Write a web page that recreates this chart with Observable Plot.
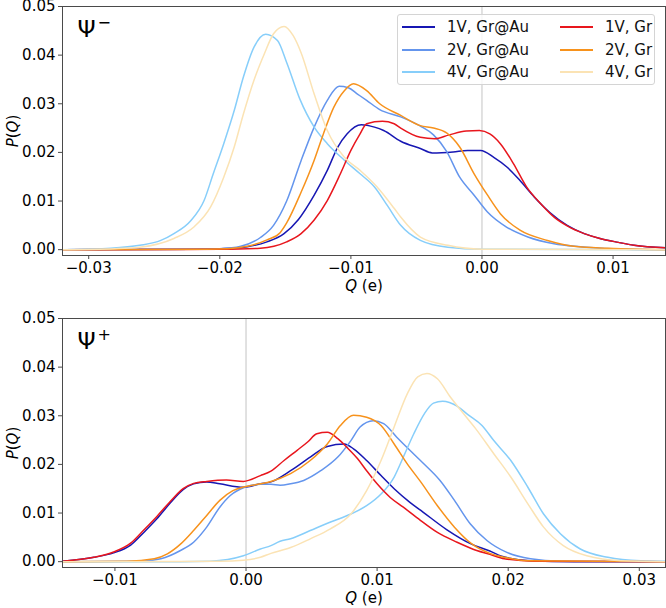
<!DOCTYPE html>
<html>
<head>
<meta charset="utf-8">
<script src="https://cdn.jsdelivr.net/npm/d3@7"></script>
<script src="https://cdn.jsdelivr.net/npm/@observablehq/plot@0.6"></script>
<style>
  body { margin: 0; background: #fff; font-family: "DejaVu Sans", sans-serif; }
  #wrap { position: relative; width: 666px; height: 608px; }
  #legend { position: absolute; left: 397px; top: 14px; width: 258px; height: 71px;
    background: rgba(255,255,255,0.8); border: 1px solid #d4d4d4; border-radius: 3px; box-sizing: border-box; }
  .entry { position: absolute; height: 20px; font-size: 15px; line-height: 20px; color: #111; white-space: nowrap; }
  .swatch { position: absolute; top: 9px; width: 33px; height: 0; border-top: 2px solid; }
  .lab { position: absolute; left: 45px; top: 0; }
</style>
</head>
<body>
<div id="wrap">
  <div id="top"></div>
  <div id="bottom"></div>
  <div id="legend"></div>
</div>
<script>
// ---- series names and colours ----
const seriesNames = ["1V, Gr@Au", "2V, Gr@Au", "4V, Gr@Au", "1V, Gr", "2V, Gr", "4V, Gr"];
const seriesColors = ["#1717b3", "#6495ed", "#87cefa", "#e8161d", "#f7921c", "#fbe3b4"];

// ---- panel labels and ticks ----
const panelSymbols = ["Ψ", "Ψ"];
const panelSups = ["−", "+"];
const topXTicks = [-0.03, -0.02, -0.01, 0.00, 0.01];
const bottomXTicks = [-0.01, 0.00, 0.01, 0.02, 0.03];
const yTicks = [0, 0.01, 0.02, 0.03, 0.04, 0.05];

// ---- Ψ⁻ panel: [Q, P(Q)] ----
const minus_1V_GrAu = [[-0.0320,0],[-0.0220,0.0001],[-0.0190,0.0003],[-0.0179,0.0006],[-0.0164,0.0016],[-0.0151,0.0033],[-0.0140,0.0062],[-0.0128,0.0112],[-0.0118,0.0163],[-0.0110,0.0211],[-0.0103,0.0238],[-0.0092,0.0257],[-0.0082,0.0252],[-0.0075,0.0245],[-0.0062,0.0223],[-0.0047,0.0208],[-0.0038,0.0199],[-0.0022,0.0201],[-0.0011,0.0204],[-0.0001,0.0204],[0.0009,0.0190],[0.0019,0.0170],[0.0029,0.0142],[0.0040,0.0108],[0.0052,0.0076],[0.0065,0.0050],[0.0078,0.0033],[0.0090,0.0023],[0.0104,0.0015],[0.0116,0.0009],[0.0140,0.0004]];
const minus_2V_GrAu = [[-0.0320,0],[-0.0220,0.0001],[-0.0199,0.0002],[-0.0184,0.0007],[-0.0169,0.0025],[-0.0159,0.0050],[-0.0149,0.0100],[-0.0138,0.0183],[-0.0128,0.0252],[-0.0118,0.0307],[-0.0109,0.0336],[-0.0102,0.0333],[-0.0095,0.0320],[-0.0088,0.0307],[-0.0078,0.0288],[-0.0062,0.0273],[-0.0047,0.0254],[-0.0037,0.0236],[-0.0027,0.0202],[-0.0017,0.0149],[-0.0006,0.0112],[0.0004,0.0078],[0.0019,0.0046],[0.0035,0.0026],[0.0055,0.0012],[0.0075,0.0006],[0.0090,0.0003],[0.0110,0.0001],[0.0140,0]];
const minus_4V_GrAu = [[-0.0320,0],[-0.0283,0.0003],[-0.0261,0.0009],[-0.0245,0.0019],[-0.0235,0.0033],[-0.0222,0.0060],[-0.0212,0.0101],[-0.0205,0.0156],[-0.0197,0.0218],[-0.0189,0.0286],[-0.0182,0.0355],[-0.0174,0.0416],[-0.0165,0.0443],[-0.0156,0.0430],[-0.0149,0.0385],[-0.0139,0.0310],[-0.0128,0.0252],[-0.0118,0.0218],[-0.0105,0.0184],[-0.0093,0.0156],[-0.0082,0.0129],[-0.0072,0.0090],[-0.0062,0.0050],[-0.0047,0.0019],[-0.0026,0.0005],[0,0.0001],[0.0140,0]];
const minus_1V_Gr = [[-0.0320,0],[-0.0200,0.0001],[-0.0169,0.0003],[-0.0149,0.0016],[-0.0138,0.0033],[-0.0128,0.0061],[-0.0118,0.0101],[-0.0108,0.0156],[-0.0100,0.0204],[-0.0093,0.0238],[-0.0088,0.0259],[-0.0076,0.0264],[-0.0067,0.0259],[-0.0062,0.0250],[-0.0047,0.0231],[-0.0036,0.0228],[-0.0025,0.0236],[-0.0012,0.0244],[-0.0002,0.0245],[0.0006,0.0238],[0.0014,0.0218],[0.0024,0.0177],[0.0034,0.0129],[0.0045,0.0094],[0.0055,0.0067],[0.0065,0.0049],[0.0078,0.0033],[0.0090,0.0023],[0.0104,0.0015],[0.0116,0.0009],[0.0140,0.0004]];
const minus_2V_Gr = [[-0.0320,0],[-0.0210,0.0001],[-0.0194,0.0002],[-0.0179,0.0007],[-0.0164,0.0020],[-0.0154,0.0035],[-0.0149,0.0055],[-0.0138,0.0118],[-0.0128,0.0184],[-0.0121,0.0238],[-0.0113,0.0293],[-0.0105,0.0327],[-0.0098,0.0341],[-0.0088,0.0327],[-0.0078,0.0300],[-0.0062,0.0276],[-0.0047,0.0255],[-0.0037,0.0250],[-0.0027,0.0240],[-0.0017,0.0211],[-0.0006,0.0156],[0.0004,0.0113],[0.0014,0.0074],[0.0029,0.0040],[0.0050,0.0019],[0.0070,0.0007],[0.0096,0.0003],[0.0120,0.0001],[0.0140,0]];
const minus_4V_Gr = [[-0.0320,0],[-0.0280,0.0002],[-0.0261,0.0005],[-0.0235,0.0023],[-0.0220,0.0046],[-0.0207,0.0088],[-0.0197,0.0149],[-0.0189,0.0211],[-0.0182,0.0279],[-0.0174,0.0348],[-0.0166,0.0403],[-0.0159,0.0444],[-0.0151,0.0459],[-0.0144,0.0440],[-0.0138,0.0405],[-0.0128,0.0320],[-0.0118,0.0245],[-0.0105,0.0190],[-0.0093,0.0163],[-0.0080,0.0129],[-0.0067,0.0085],[-0.0062,0.0067],[-0.0047,0.0026],[-0.0026,0.0009],[0,0.0001],[0.0140,0]];

// ---- Ψ⁺ panel: [Q, P(Q)] ----
const plus_1V_GrAu = [[-0.0140,0.0001],[-0.0116,0.0009],[-0.0101,0.0018],[-0.0088,0.0034],[-0.0078,0.0060],[-0.0068,0.0088],[-0.0058,0.0120],[-0.0048,0.0148],[-0.0040,0.0160],[-0.0030,0.0164],[-0.0020,0.0160],[-0.0002,0.0153],[0.0011,0.0160],[0.0019,0.0164],[0.0034,0.0187],[0.0049,0.0215],[0.0062,0.0237],[0.0075,0.0242],[0.0082,0.0232],[0.0092,0.0208],[0.0103,0.0177],[0.0113,0.0150],[0.0125,0.0122],[0.0135,0.0102],[0.0153,0.0066],[0.0172,0.0036],[0.0186,0.0022],[0.0195,0.0011],[0.0217,0.0002],[0.0250,0],[0.0320,0]];
const plus_2V_GrAu = [[-0.0140,0],[-0.0080,0.0001],[-0.0065,0.0006],[-0.0050,0.0023],[-0.0040,0.0040],[-0.0030,0.0071],[-0.0020,0.0112],[-0.0012,0.0136],[-0.0001,0.0153],[0.0011,0.0159],[0.0019,0.0159],[0.0026,0.0157],[0.0034,0.0160],[0.0044,0.0167],[0.0057,0.0187],[0.0070,0.0215],[0.0080,0.0249],[0.0087,0.0277],[0.0097,0.0290],[0.0105,0.0284],[0.0115,0.0256],[0.0125,0.0229],[0.0135,0.0203],[0.0148,0.0167],[0.0159,0.0126],[0.0171,0.0078],[0.0184,0.0043],[0.0199,0.0019],[0.0217,0.0006],[0.0240,0.0001],[0.0320,0]];
const plus_4V_GrAu = [[-0.0140,0],[-0.0050,0],[-0.0027,0.0001],[-0.0002,0.0012],[0.0011,0.0026],[0.0019,0.0033],[0.0026,0.0042],[0.0034,0.0047],[0.0049,0.0064],[0.0064,0.0081],[0.0080,0.0098],[0.0092,0.0115],[0.0103,0.0139],[0.0113,0.0174],[0.0120,0.0215],[0.0128,0.0263],[0.0136,0.0304],[0.0143,0.0326],[0.0150,0.0330],[0.0161,0.0320],[0.0169,0.0303],[0.0180,0.0280],[0.0189,0.0249],[0.0202,0.0208],[0.0215,0.0153],[0.0227,0.0098],[0.0240,0.0057],[0.0255,0.0026],[0.0276,0.0009],[0.0301,0.0002],[0.0320,0.0001]];
const plus_1V_Gr = [[-0.0140,0.0001],[-0.0116,0.0009],[-0.0101,0.0020],[-0.0088,0.0038],[-0.0078,0.0065],[-0.0068,0.0093],[-0.0058,0.0123],[-0.0048,0.0150],[-0.0040,0.0161],[-0.0030,0.0165],[-0.0015,0.0168],[-0.0002,0.0165],[0.0011,0.0177],[0.0019,0.0186],[0.0029,0.0208],[0.0039,0.0229],[0.0047,0.0246],[0.0054,0.0263],[0.0062,0.0266],[0.0070,0.0253],[0.0077,0.0235],[0.0085,0.0212],[0.0092,0.0187],[0.0100,0.0160],[0.0110,0.0132],[0.0120,0.0112],[0.0133,0.0085],[0.0146,0.0060],[0.0161,0.0040],[0.0176,0.0023],[0.0186,0.0015],[0.0197,0.0006],[0.0220,0.0001],[0.0320,0]];
const plus_2V_Gr = [[-0.0140,0],[-0.0091,0.0001],[-0.0070,0.0006],[-0.0060,0.0016],[-0.0050,0.0036],[-0.0040,0.0064],[-0.0030,0.0095],[-0.0020,0.0126],[-0.0010,0.0146],[-0.0001,0.0154],[0.0011,0.0160],[0.0019,0.0165],[0.0034,0.0181],[0.0049,0.0208],[0.0062,0.0242],[0.0072,0.0280],[0.0082,0.0301],[0.0092,0.0297],[0.0103,0.0280],[0.0113,0.0242],[0.0123,0.0201],[0.0133,0.0165],[0.0146,0.0115],[0.0159,0.0071],[0.0172,0.0037],[0.0186,0.0017],[0.0197,0.0009],[0.0215,0.0002],[0.0320,0]];
const plus_4V_Gr = [[-0.0140,0],[-0.0020,0.0001],[-0.0002,0.0003],[0.0011,0.0009],[0.0019,0.0017],[0.0034,0.0029],[0.0049,0.0047],[0.0064,0.0067],[0.0080,0.0098],[0.0092,0.0146],[0.0103,0.0208],[0.0113,0.0277],[0.0123,0.0345],[0.0131,0.0380],[0.0138,0.0387],[0.0146,0.0376],[0.0156,0.0338],[0.0166,0.0304],[0.0175,0.0274],[0.0189,0.0222],[0.0202,0.0174],[0.0215,0.0119],[0.0227,0.0071],[0.0242,0.0033],[0.0260,0.0012],[0.0286,0.0002],[0.0320,0]];

const minusSeries = [minus_1V_GrAu, minus_2V_GrAu, minus_4V_GrAu, minus_1V_Gr, minus_2V_Gr, minus_4V_Gr];
const plusSeries = [plus_1V_GrAu, plus_2V_GrAu, plus_4V_GrAu, plus_1V_Gr, plus_2V_Gr, plus_4V_Gr];

function toRows(list) {
  const rows = [];
  list.forEach((arr, i) => arr.forEach(([q, p]) => rows.push({series: seriesNames[i], q, p})));
  return rows;
}

const FONT = "DejaVu Sans";
const fmt = d3.format(".2f");

function panel({rows, xDomain, xTicks, symbol, sup, height, marginTop, marginBottom}) {
  const svg = Plot.plot({
    width: 666, height, marginLeft: 62, marginRight: 1, marginTop, marginBottom,
    style: {fontFamily: FONT, fontSize: "15px", color: "#000", background: "#fff"},
    x: {domain: xDomain},
    y: {domain: [-0.0012, 0.05]},
    color: {domain: seriesNames, range: seriesColors},
    marks: [
      Plot.ruleX([0], {stroke: "#c4c4c4", strokeWidth: 1}),
      Plot.line(rows, {x: "q", y: "p", z: "series", stroke: "series", curve: "monotone-x", strokeWidth: 1.5}),
      Plot.frame({stroke: "#4a4a4a", strokeWidth: 1}),
      Plot.axisX({ticks: xTicks, tickFormat: fmt, tickSize: 4, tickPadding: 3, fontSize: 15, stroke: "#4a4a4a",
        label: "Q (e)", labelAnchor: "center", labelArrow: "none", labelOffset: 35}),
      Plot.axisY({ticks: yTicks, tickFormat: fmt, tickSize: 4, tickPadding: 3, fontSize: 15, stroke: "#4a4a4a",
        label: "P(Q)", labelAnchor: "center", labelArrow: "none", labelOffset: 55}),
      Plot.text([symbol], {frameAnchor: "top-left", dx: 15, dy: 23, fontSize: 23, textAnchor: "start", lineAnchor: "middle", fill: "#000"})
    ]
  });
  // italic math letters in axis labels
  const xl = svg.querySelector('g[aria-label="x-axis label"] text');
  if (xl) xl.innerHTML = '<tspan font-style="italic">Q</tspan> (e)';
  const yl = svg.querySelector('g[aria-label="y-axis label"] text');
  if (yl) yl.innerHTML = '<tspan font-style="italic">P</tspan>(<tspan font-style="italic">Q</tspan>)';
  // superscript on panel symbol
  const pt = svg.querySelector('g[aria-label="text"] text');
  if (pt) {
    const ts = document.createElementNS("http://www.w3.org/2000/svg", "tspan");
    ts.setAttribute("dy", "-9");
    ts.setAttribute("dx", "2");
    ts.setAttribute("font-size", "16");
    ts.textContent = sup;
    pt.appendChild(ts);
  }
  return svg;
}

document.getElementById("top").appendChild(panel({
  rows: toRows(minusSeries), xDomain: [-0.032, 0.014], xTicks: topXTicks, symbol: panelSymbols[0], sup: panelSups[0],
  height: 300, marginTop: 6, marginBottom: 45
}));
document.getElementById("bottom").appendChild(panel({
  rows: toRows(plusSeries), xDomain: [-0.014, 0.032], xTicks: bottomXTicks, symbol: panelSymbols[1], sup: panelSups[1],
  height: 308, marginTop: 18, marginBottom: 41
}));

// legend (two columns, three rows)
const legend = document.getElementById("legend");
seriesNames.forEach((name, i) => {
  const col = Math.floor(i / 3), row = i % 3;
  const e = document.createElement("div");
  e.className = "entry";
  e.style.left = (col === 0 ? 4 : 162) + "px";
  e.style.top = (2 + row * 22.5) + "px";
  const sw = document.createElement("span");
  sw.className = "swatch";
  sw.style.borderTopColor = seriesColors[i];
  const t = document.createElement("span");
  t.className = "lab";
  t.textContent = name;
  e.appendChild(sw); e.appendChild(t);
  legend.appendChild(e);
});
</script>
</body>
</html>
